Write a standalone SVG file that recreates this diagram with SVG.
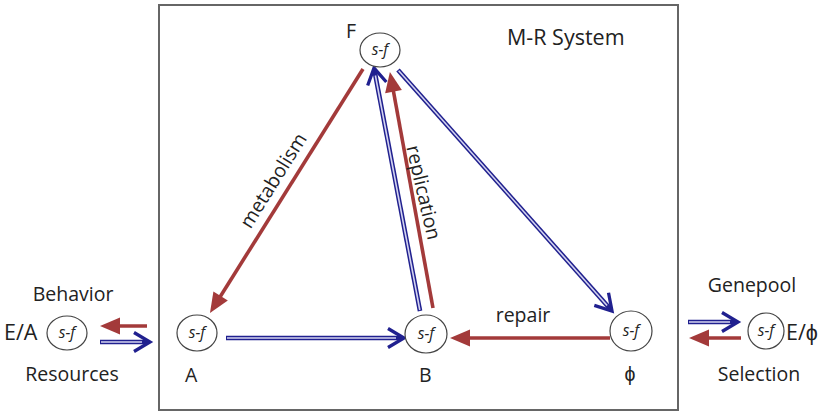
<svg xmlns="http://www.w3.org/2000/svg" width="827" height="412" viewBox="0 0 827 412">
<style>
.t{font-family:"Open Sans","Liberation Sans",sans-serif;font-size:19.5px;fill:#222}
.big{font-size:21.5px}
.sf{font-family:"Open Sans","Liberation Serif",serif;font-style:italic;font-size:15.5px;fill:#222;text-anchor:middle}
.node ellipse{fill:#fff;stroke:#444;stroke-width:1.2}
.red{stroke:#a33a3a;stroke-width:3.6;fill:none}
.bo{stroke:#20208f;stroke-width:4.6;fill:none}
.bi{stroke:#d4d4f0;stroke-width:1.6;fill:none}
</style>
<defs>
<marker id="rh" markerUnits="userSpaceOnUse" markerWidth="34" markerHeight="24" viewBox="-12 -12 24 24" refX="0" refY="0" orient="auto">
<path d="M-10,-8.5 L10,0 L-10,8.5 z" fill="#a33a3a"/>
</marker>
<marker id="ch" markerUnits="userSpaceOnUse" markerWidth="26" markerHeight="26" viewBox="-18 -13 24 26" refX="0" refY="0" orient="auto">
<path d="M-14,-9.5 L2,0 L-14,9.5" fill="none" stroke="#20208f" stroke-width="3.3"/>
</marker>
</defs>
<rect x="159" y="5" width="519" height="405" fill="none" stroke="#666" stroke-width="2"/>
<g id="connectors">
<line class="red" x1="363" y1="69" x2="215.3" y2="304.5" marker-end="url(#rh)"/>
<line class="red" x1="433" y1="308" x2="391.7" y2="81.8" marker-end="url(#rh)"/>
<line class="red" x1="610" y1="338" x2="460" y2="338" marker-end="url(#rh)"/>
<line class="red" x1="147" y1="326" x2="110" y2="326" marker-end="url(#rh)"/>
<line class="red" x1="741" y1="338" x2="699" y2="338" marker-end="url(#rh)"/>
<line class="bo" x1="226" y1="338" x2="402" y2="338" marker-end="url(#ch)"/>
<line class="bi" x1="227" y1="338" x2="396" y2="338"/>
<line class="bo" x1="420" y1="311" x2="374.4" y2="70" marker-end="url(#ch)"/>
<line class="bi" x1="419.8" y1="310" x2="375.4" y2="75.5"/>
<line class="bo" x1="398" y1="70" x2="610.7" y2="309.5" marker-end="url(#ch)"/>
<line class="bi" x1="398.7" y1="70.8" x2="607.1" y2="305.5"/>
<line class="bo" x1="100" y1="342" x2="148" y2="342" marker-end="url(#ch)"/>
<line class="bi" x1="101" y1="342" x2="142" y2="342"/>
<line class="bo" x1="688" y1="322" x2="736" y2="322" marker-end="url(#ch)"/>
<line class="bi" x1="689" y1="322" x2="730" y2="322"/>
</g>
<g id="labels">
<text class="t" font-size="20.5" transform="translate(279,184) rotate(-58)" text-anchor="middle">metabolism</text>
<text class="t" font-size="20.5" transform="translate(417,194) rotate(77)" text-anchor="middle">replication</text>
<text class="t" font-size="20.5" x="523" y="322" text-anchor="middle">repair</text>
<text class="t big" x="507" y="45">M-R System</text>
</g>
<g id="node-F" class="node">
<ellipse cx="380" cy="50" rx="20" ry="17"/>
<text class="sf" x="380" y="55">s-f</text>
<text class="t" font-size="21" x="346" y="38">F</text>
</g>
<g id="node-A" class="node">
<ellipse cx="197" cy="333" rx="20" ry="18"/>
<text class="sf" x="197" y="338">s-f</text>
<text class="t" x="185" y="382">A</text>
</g>
<g id="node-B" class="node">
<ellipse cx="426" cy="334" rx="21" ry="19"/>
<text class="sf" x="426" y="339">s-f</text>
<text class="t" x="419" y="382">B</text>
</g>
<g id="node-phi" class="node">
<ellipse cx="631" cy="331" rx="21" ry="20"/>
<text class="sf" x="631" y="336">s-f</text>
<text class="t" font-size="21" x="630" y="381" text-anchor="middle">ϕ</text>
</g>
<g id="node-EA" class="node">
<ellipse cx="67" cy="333" rx="20" ry="17"/>
<text class="sf" x="67" y="338">s-f</text>
<text class="t big" x="4" y="340">E/A</text>
<text class="t" x="73" y="301" text-anchor="middle">Behavior</text>
<text class="t" x="72" y="381" text-anchor="middle">Resources</text>
</g>
<g id="node-Ephi" class="node">
<ellipse cx="766" cy="331" rx="18" ry="18"/>
<text class="sf" x="766" y="336">s-f</text>
<text class="t big" x="786" y="340">E/ϕ</text>
<text class="t" x="752" y="292" text-anchor="middle">Genepool</text>
<text class="t" x="759" y="381" text-anchor="middle">Selection</text>
</g>
</svg>
